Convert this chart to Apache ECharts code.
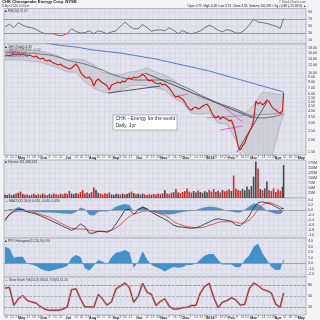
<!DOCTYPE html>
<html><head><meta charset="utf-8">
<script src="https://cdn.jsdelivr.net/npm/echarts@6/dist/echarts.min.js"></script>
<style>html,body{margin:0;padding:0;background:#f4f4f7;}#c{width:320px;height:320px;}</style>
</head><body><div id="c"></div>
<script>
// ---- data (trading-day index 0 = 10-Apr-2015, 251 = 8-Apr-2016) ----
const close = [14.89,15.25,14.89,15.25,15.62,15.25,15.62,15.25,15.62,15.25,
 14.89,15.25,14.89,14.54,14.89,14.20,13.86,14.20,13.54,13.22,
 13.54,12.91,12.60,12.31,12.02,12.31,11.74,11.47,11.20,10.93,
 11.20,11.74,12.31,11.47,10.17,9.47,9.03,8.82,9.03,8.41,
 7.29,8.21,8.62,8.21,7.83,7.65,7.29,6.63,7.47,7.65,
 7.83,8.02,7.83,8.21,8.02,8.62,8.82,8.62,9.03,8.82,
 9.03,9.25,9.70,9.25,8.62,8.21,8.41,8.02,7.83,7.65,
 7.83,7.47,7.65,7.29,6.95,6.47,5.89,5.61,5.75,5.48,
 5.35,4.98,4.53,4.22,4.12,4.32,4.42,4.22,4.32,4.53,
 4.64,4.75,4.42,3.93,3.57,3.41,3.57,3.32,3.49,3.41,
 3.32,3.17,3.24,2.81,2.27,1.75,1.59,1.75,1.87,2.16,
 2.44,2.68,3.24,5.10,4.75,4.98,4.64,4.86,5.22,4.98,
 4.53,4.22,4.12,3.93,3.83,4.02,6.17];
const volume = [18,15,20,14,17,22,26,32,20,16,
 18,14,17,21,15,19,16,22,18,14,
 20,17,23,19,16,21,18,24,20,35,
 22,19,25,21,30,40,24,28,22,30,
 53,40,26,22,18,24,20,28,18,16,
 21,19,17,22,18,20,26,32,24,19,
 21,17,22,18,15,19,16,20,18,22,
 19,24,40,22,20,26,30,45,28,24,
 30,34,48,32,27,35,28,38,30,26,
 34,29,40,32,45,30,36,28,40,33,
 38,44,35,112,48,40,36,45,38,57,
 42,60,107,182,148,45,38,48,82,40,
 35,48,30,42,36,57,165];
const ma200 = [22.86,22.32,21.80,21.28,20.78,20.05,19.35,18.89,18.45,17.81,17.18,16.77,16.37,15.99,15.43,14.89,14.37,13.86,13.22,12.60,12.02,11.47,10.93,10.42,9.82,9.25,8.72,8.21,7.74,7.29,6.87,6.47,6.32];
const ma50 = [16.37,16.37,15.99,15.99,15.62,15.25,14.54,13.54,12.91,12.31,11.47,10.67,9.70,9.03,8.62,8.41,8.41,8.41,8.41,8.02,7.29,6.63,5.89,5.35,4.86,4.53,4.22,3.83,3.49,3.41,3.49,3.66,3.74];
const bbUpper = [17.18,17.59,17.59,17.18,16.77,15.99,14.89,13.54,13.86,13.54,12.02,10.17,9.70,9.47,10.17,10.42,11.20,10.17,9.47,8.41,6.95,6.32,5.48,5.22,4.86,4.32,4.12,3.74,4.64,6.32,6.17,5.89,6.32];
const bbLower = [13.54,13.54,13.54,13.22,12.91,12.02,11.20,10.17,10.17,8.02,6.95,6.32,6.17,6.63,7.29,7.47,7.29,6.95,6.63,5.48,4.86,3.83,3.74,3.83,3.02,2.95,2.02,1.11,0.88,0.94,1.31,2.88,3.66];
const rsi = [48,56,46,60,53,48,46,41,34,29, 29,29,24,24,29,43,35,31,32,37, 29,37,34,29,34,37,50,62,51,43, 43,55,46,36,39,40,37,46,38,29, 38,31,29,32,37,46,53,47,39,34, 41,37,31,31,39,53,70,62,60,58, 54,50,44,72];
const macd = [-0.43,-0.16,-0.04,0.03,0.01,-0.07,-0.12,-0.16,-0.23,-0.31, -0.39,-0.48,-0.56,-0.65,-0.73,-0.81,-0.72,-0.56,-0.67,-0.93, -0.92,-0.85,-0.85,-0.89,-0.80,-0.56,-0.29,0.00,0.03,-0.17, 0.00,0.12,0.04,-0.09,-0.19,-0.28,-0.37,-0.48,-0.61,-0.67, -0.68,-0.71,-0.73,-0.71,-0.65,-0.56,-0.48,-0.39,-0.35,-0.39, -0.41,-0.45,-0.60,-0.63,-0.47,-0.24,0.09,0.29,0.33,0.27, 0.23,0.13,0.03,0.07];
const signal = [-0.36,-0.20,-0.07,-0.04,-0.04,-0.07,-0.08,-0.12,-0.17,-0.23, -0.29,-0.37,-0.47,-0.56,-0.65,-0.73,-0.76,-0.76,-0.77,-0.81, -0.84,-0.85,-0.87,-0.85,-0.81,-0.72,-0.59,-0.41,-0.27,-0.16, -0.11,-0.05,-0.04,-0.05,-0.09,-0.16,-0.21,-0.31,-0.47,-0.55, -0.61,-0.67,-0.69,-0.71,-0.71,-0.68,-0.61,-0.56,-0.49,-0.47, -0.47,-0.47,-0.49,-0.53,-0.51,-0.40,-0.23,0.04,0.20,0.31, 0.28,0.21,0.12,0.04];
const macdHist = [-0.07,0.04,0.03,0.12,0.06,-0.02,-0.06,-0.08,-0.09,-0.10, -0.10,-0.11,-0.12,-0.14,-0.15,-0.16,-0.08,0.10,0.03,-0.20, -0.22,-0.08,-0.05,-0.06,0.02,0.13,0.20,0.24,0.20,-0.05, 0.06,0.14,0.07,-0.06,-0.12,-0.15,-0.17,-0.18,-0.16,-0.12, -0.08,-0.05,-0.04,0.00,0.06,0.11,0.14,0.12,0.09,0.04, -0.04,-0.06,-0.10,-0.10,0.02,0.14,0.26,0.24,0.13,-0.04, -0.10,-0.15,-0.16,-0.05];
const osc = [3.0,2.7,1.0,1.2,1.2,-0.1,-0.2,-0.5,-1.0,-1.3, -1.45,-1.2,-1.0,-0.8,-0.5,1.0,1.5,1.15,-0.9,-1.3, -0.4,0.6,0.35,-0.2,1.1,1.9,2.1,2.4,2.0,-0.85, 0.3,2.2,0.7,-0.25,-0.7,-1.0,-1.5,-1.0,-0.65,-0.8, -0.65,-0.3,-0.3,-0.05,0.7,1.4,1.7,1.7,0.6,-0.2, -0.2,-0.2,-0.7,-0.65,0.6,1.4,3.0,3.6,1.8,0.6, -0.65,-1.2,-1.15,0.9];
const stoch = [71,73,24.5,42,51,38,33.5,30.5,21,14, 11,11,11,14,20,67,69,42,20,20, 19,54,41,25,34,69,77,85,73,33, 49,84,60,54,24,35,42,22,14,15, 18,19,24,24,58,76,84,46,18,33, 37,45,39,25,27,69,85,78,68,64, 58,27,19,58];
// hand-drawn trend lines [[day, price],[day, price]]
const trendBlack = [[[93,6.17],[140,7.29]], [[126,9.94],[223,3.41]], [[209,1.51],[236,4.98]]];
const trendGray = [[[182,3.41],[251,3.83]]];
const trendPink = [[[194,4.75],[214,3.10]], [[194,2.56],[214,2.81]], [[153,5.61],[165,6.03]]];
// tick labels
const tickIdx = [1,6,11,15,21,26,31,35,40,45,50,57,64,69,74,79,84,89,94,100,104,108,113,121,128,133,138,143,148,153,158,163,167,172,177,181,185,190,195,199,204,209,214,218,224,228,233,238,242,246,252,257,262,267];
const tickText = ['13','20','27','May','11','18','26','Jun','8','15','22','Jul','13','20','27','Aug','10','17','24','Sep','8','14','21','Oct','12','19','26','Nov','9','16','23','Dec','7','14','21','28','2016','11','19','25','Feb','8','16','22','Mar','7','14','21','28','Apr','11','18','25','May'];
const monthNames = ['May','Jun','Jul','Aug','Sep','Oct','Nov','Dec','2016','Feb','Mar','Apr'];
const priceTicks = [1.5,2,2.5,3,3.5,4,4.5,5,5.5,6,7,8,9,10,12,14,16,18];
const rsiTicks = [10,30,50,70,90];
const volTicks = [25,50,75,100,125,150,175];
const macdTicks = [-1,-0.8,-0.6,-0.4,-0.2,0,0.2,0.4];
const oscTicks = [-2,-1,0,1,2,3,4];
const stochTicks = [20,50,80];

// ---- build ----
function days(step){const a=[];for(let i=0;i<=250;i+=step)a.push(i);a.push(251);return a;}
const D2=days(2), D4=days(4), D8=days(8);
const pairs=(d,v)=>v.map((y,i)=>[d[i],y]);
const lg=(d,v)=>v.map((y,i)=>[d[i],Math.log10(y)]);
const tickMap={}; tickIdx.forEach((t,i)=>tickMap[t]=tickText[i]);
const FONT='"Liberation Sans", Arial, sans-serif';
const GL='#d2d3e0';

const grids=[[8.5,35.5],[44,111],[160,38],[198,40],[238,39],[277,39]].map(g=>({
  left:4,width:302,top:g[0],height:g[1],show:true,backgroundColor:'#e2e3ee',borderColor:'#a4a5b6',borderWidth:0.8}));

const xAxes=grids.map((g,i)=>({
  type:'value',gridIndex:i,min:-0.9,max:271.2,
  axisLine:{show:false},axisTick:{show:false,customValues:tickIdx},
  splitLine:{show:true,lineStyle:{color:GL,width:0.6}},
  axisLabel:{show:(i===1||i===5),customValues:tickIdx,margin:1,fontSize:3.3,color:'#555',fontFamily:FONT,
    formatter:v=>{const t=tickMap[Math.round(v)]||'';return monthNames.indexOf(t)>=0?'{m|'+t+'}':t;},
    rich:{m:{fontSize:3.7,fontWeight:'bold',color:'#222',fontFamily:FONT}}}
}));

function yAx(i,min,max,ticks,fmt){
  return {type:'value',gridIndex:i,position:'right',min:min,max:max,scale:true,
    axisLine:{show:false},axisTick:{show:false,customValues:ticks},
    splitLine:{show:true,lineStyle:{color:GL,width:0.6}},
    axisLabel:{customValues:ticks,margin:2,fontSize:3.6,color:'#333',fontFamily:FONT,formatter:fmt}};
}
const pLog=priceTicks.map(Math.log10);
const yAxes=[
  yAx(0,0,100,rsiTicks,v=>String(v)),
  yAx(1,Math.log10(1.41),Math.log10(19.85),pLog,v=>{const p=Math.pow(10,v);return p.toFixed(2);}),
  yAx(2,0,190,volTicks,v=>v+'M'),
  yAx(3,-1.12,0.48,macdTicks,v=>v.toFixed(1)),
  yAx(4,-2.49,4.6,oscTicks,v=>v.toFixed(1)),
  yAx(5,-1.85,101.3,stochTicks,v=>String(v))
];

const ml=(vals,color,type)=>({silent:true,symbol:'none',label:{show:false},animation:false,
  lineStyle:{color:color,width:0.7,type:type||'solid'},data:vals.map(v=>({yAxis:v}))});

// RSI colour: red below the 32 level (pixel gradient over the RSI panel)
const rsiColor=new echarts.graphic.LinearGradient(0,8.5,0,44,[
  {offset:0,color:'#555'},{offset:0.68,color:'#555'},{offset:0.68,color:'#c41e1e'},{offset:1,color:'#c41e1e'}],true);

const series=[];
series.push({type:'line',xAxisIndex:0,yAxisIndex:0,data:pairs(D4,rsi),symbol:'none',lineStyle:{width:0.8,color:rsiColor},
  markLine:ml([30,70],'#7c7d90')});
// Bollinger band fill: one polygon through the library's coordinate mapping
series.push({type:'custom',xAxisIndex:1,yAxisIndex:1,silent:true,data:[[D8[0],Math.log10(bbUpper[0])]],
  renderItem:(params,api)=>{
    const up=D8.map((d,i)=>api.coord([d,Math.log10(bbUpper[i])]));
    const lo=D8.map((d,i)=>api.coord([d,Math.log10(bbLower[i])])).reverse();
    const cs=params.coordSys;
    const pts=echarts.graphic.clipPointsByRect(up.concat(lo),{x:cs.x,y:cs.y,width:cs.width,height:cs.height});
    return {type:'polygon',shape:{points:pts},style:{fill:'rgba(150,150,160,0.24)'}};
  }});
series.push({type:'line',xAxisIndex:1,yAxisIndex:1,data:lg(D8,bbLower),symbol:'none',lineStyle:{color:'#9d9dab',width:0.6}});
series.push({type:'line',xAxisIndex:1,yAxisIndex:1,data:lg(D8,bbUpper),symbol:'none',lineStyle:{color:'#9d9dab',width:0.6}});
// MAs
series.push({type:'line',xAxisIndex:1,yAxisIndex:1,data:lg(D8,ma200),symbol:'none',smooth:true,lineStyle:{color:'#4a68b4',width:0.9}});
series.push({type:'line',xAxisIndex:1,yAxisIndex:1,data:lg(D8,ma50),symbol:'none',smooth:true,lineStyle:{color:'#5a5a64',width:0.8}});
// trend lines
trendBlack.forEach(s=>series.push({type:'line',xAxisIndex:1,yAxisIndex:1,data:s.map(p=>[p[0],Math.log10(p[1])]),symbol:'none',lineStyle:{color:'#333',width:0.8}}));
trendGray.forEach(s=>series.push({type:'line',xAxisIndex:1,yAxisIndex:1,data:s.map(p=>[p[0],Math.log10(p[1])]),symbol:'none',lineStyle:{color:'#8c8c9c',width:0.8}}));
trendPink.forEach(s=>series.push({type:'line',xAxisIndex:1,yAxisIndex:1,data:s.map(p=>[p[0],Math.log10(p[1])]),symbol:'none',lineStyle:{color:'#e040c8',width:0.8}}));
// price
series.push({type:'line',xAxisIndex:1,yAxisIndex:1,data:lg(D2,close),symbol:'none',lineStyle:{color:'#cc1c1c',width:1.2}});
// volume
series.push({type:'bar',xAxisIndex:2,yAxisIndex:2,barWidth:1.6,
  data:volume.map((v,i)=>({value:[D2[i],v],itemStyle:{color:(i>0&&close[i]<close[i-1])?'#cf2a2a':'#4a4a4a'}}))});
// MACD
series.push({type:'line',xAxisIndex:3,yAxisIndex:3,data:pairs(D4,macdHist),symbol:'none',lineStyle:{width:0},
  areaStyle:{color:'#3a8cc6',opacity:0.9},markLine:ml([0],'#8a8b9c')});
series.push({type:'line',xAxisIndex:3,yAxisIndex:3,data:pairs(D4,signal),symbol:'none',lineStyle:{color:'#d83a3a',width:0.8}});
series.push({type:'line',xAxisIndex:3,yAxisIndex:3,data:pairs(D4,macd),symbol:'none',lineStyle:{color:'#222',width:0.8}});
// oscillator
series.push({type:'line',xAxisIndex:4,yAxisIndex:4,data:pairs(D4,osc),symbol:'none',lineStyle:{width:0},
  areaStyle:{color:'#3a8cc6',opacity:0.95},markLine:ml([0],'#8a8b9c')});
// stochastics
series.push({type:'line',xAxisIndex:5,yAxisIndex:5,data:pairs(D4,stoch),symbol:'none',lineStyle:{color:'#e06a6a',width:1.8},
  markLine:{silent:true,symbol:'none',label:{show:false},lineStyle:{color:'#7c7d90',width:0.7},
    data:[{yAxis:20},{yAxis:80},{yAxis:50,lineStyle:{type:'dashed',color:'#9a9bb0'}}]}});
series.push({type:'line',xAxisIndex:5,yAxisIndex:5,data:pairs(D4,stoch),symbol:'none',lineStyle:{color:'#333',width:0.6}});

const T=(x,y,text,o)=>Object.assign({type:'text',x:x,y:y,silent:true,z:100,
  style:Object.assign({text:text,fontSize:3.4,fill:'#333',fontFamily:FONT},o||{})});
const graphic=[
  T(2,0.3,'CHK Chesapeake Energy Corp. NYSE',{fontSize:4.2,fontWeight:'bold',fill:'#222'}),
  T(2,4.4,'8-Apr-2016 4:00pm',{fontSize:3.2,fill:'#555'}),
  T(306,0.5,'© StockCharts.com',{fontSize:3.2,fill:'#555',align:'right'}),
  T(306,4.3,'Open 3.75  High 4.48  Low 3.73  Close 4.35  Volume 161.2M  Chg +0.88 (+25.36%) ▲',{fontSize:3.1,fill:'#222',align:'right'}),
  T(5,9.6,'■ RSI(14) 72.07',{fontSize:3.2}),
  T(5,45.2,'■ CHK (Daily) 4.35',{fontSize:3.2,fill:'#222'}),
  T(5,48.4,'— BB(20,2.0) 3.66 - 6.32',{fontSize:3.2,fill:'#777'}),
  T(5,51.6,'— MA(50) 3.74',{fontSize:3.2,fill:'#c22'}),
  T(5,54.8,'— MA(200) 6.32',{fontSize:3.2,fill:'#4a68b4'}),
  T(5,161,'■ Volume 161,188,224',{fontSize:3.2}),
  T(5,199.2,'— MACD(12,26,9) 0.070, 0.040, 0.030',{fontSize:3.2}),
  T(5,239.2,'■ PPO Histogram(12,26,9) 0.90',{fontSize:3.2}),
  T(5,278.2,'— Slow Stoch %K(14,3) 58.00, %D(3) 41.20',{fontSize:3.2}),
  {type:'rect',shape:{x:113,y:115,width:64,height:15},style:{fill:'#ffffff',stroke:'#8a8a8a',lineWidth:0.6},z:99,silent:true},
  T(115.5,116.4,'CHK - Energy for the world',{fontSize:5,fill:'#333'}),
  T(115.5,123,'Daily, 1yr',{fontSize:5,fill:'#333'})
];

const chart=echarts.init(document.getElementById('c'),null,{renderer:'canvas'});
chart.setOption({
  animation:false,backgroundColor:'#f4f4f7',
  textStyle:{fontFamily:FONT},
  grid:grids,xAxis:xAxes,yAxis:yAxes,series:series,graphic:graphic
});
</script></body></html>
